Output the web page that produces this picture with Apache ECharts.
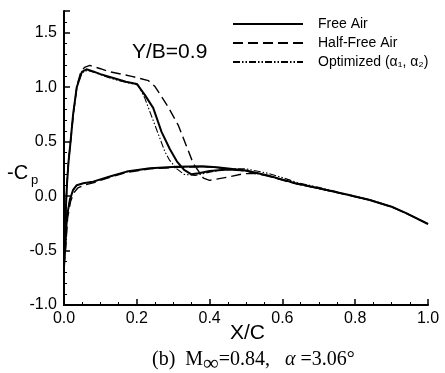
<!DOCTYPE html>
<html><head><meta charset="utf-8">
<script src="https://cdn.jsdelivr.net/npm/echarts@6/dist/echarts.min.js"></script>
<style>html,body{margin:0;padding:0;background:#fff}#c{width:445px;height:373px}</style>
</head><body><div id="c"></div>
<script>
// ---- data (x/c, -Cp) ----
var freeUpperX = [0, 0.004, 0.008, 0.012, 0.018, 0.025, 0.035, 0.049, 0.062, 0.08, 0.1, 0.14, 0.17, 0.2, 0.222, 0.245, 0.268, 0.291, 0.31, 0.33, 0.35, 0.37, 0.4, 0.45, 0.5, 0.56, 0.64, 0.7, 0.78, 0.84, 0.9, 0.94, 1.0];
var freeUpperY = [-0.65, -0.2, 0.1, 0.3, 0.5, 0.75, 1.0, 1.14, 1.165, 1.145, 1.12, 1.08, 1.05, 1.03, 0.93, 0.81, 0.59, 0.43, 0.32, 0.24, 0.2, 0.21, 0.23, 0.245, 0.235, 0.19, 0.115, 0.072, 0.012, -0.035, -0.097, -0.157, -0.256];
var freeLowerX = [0, 0.004, 0.008, 0.016, 0.025, 0.035, 0.053, 0.08, 0.126, 0.172, 0.236, 0.31, 0.38, 0.42, 0.5, 0.56, 0.64, 0.7, 0.78, 0.84, 0.9, 0.94, 1.0];
var freeLowerY = [-0.65, -0.45, -0.19, -0.035, 0.057, 0.1, 0.118, 0.133, 0.18, 0.225, 0.256, 0.27, 0.275, 0.265, 0.235, 0.19, 0.115, 0.072, 0.012, -0.035, -0.097, -0.157, -0.256];

var halfUpperX = [0, 0.004, 0.008, 0.012, 0.018, 0.026, 0.036, 0.047, 0.058, 0.071, 0.1, 0.122, 0.186, 0.232, 0.25, 0.286, 0.314, 0.337, 0.355, 0.383, 0.4, 0.45, 0.493, 0.52, 0.56, 0.64, 0.7, 0.78, 0.84, 0.9, 0.94, 1.0];
var halfUpperY = [-0.65, -0.2, 0.1, 0.3, 0.5, 0.76, 1.02, 1.15, 1.185, 1.2, 1.17, 1.145, 1.1, 1.06, 1.006, 0.82, 0.65, 0.455, 0.3, 0.165, 0.145, 0.175, 0.205, 0.21, 0.185, 0.11, 0.07, 0.01, -0.037, -0.1, -0.158, -0.256];
var halfLowerX = [0, 0.005, 0.01, 0.018, 0.027, 0.038, 0.055, 0.08, 0.126, 0.172, 0.236, 0.31, 0.38, 0.42, 0.5, 0.56, 0.64, 0.7, 0.78, 0.84, 0.9, 0.94, 1.0];
var halfLowerY = [-0.65, -0.45, -0.2, -0.05, 0.03, 0.075, 0.1, 0.122, 0.172, 0.218, 0.25, 0.265, 0.27, 0.262, 0.23, 0.185, 0.11, 0.07, 0.01, -0.037, -0.1, -0.158, -0.256];

var optUpperX = [0, 0.004, 0.008, 0.012, 0.018, 0.025, 0.035, 0.049, 0.064, 0.08, 0.1, 0.14, 0.17, 0.204, 0.222, 0.25, 0.277, 0.29, 0.31, 0.33, 0.36, 0.4, 0.45, 0.5, 0.56, 0.6, 0.64, 0.7, 0.78, 0.84, 0.9, 0.94, 1.0];
var optUpperY = [-0.65, -0.2, 0.1, 0.3, 0.5, 0.75, 1.0, 1.13, 1.155, 1.14, 1.115, 1.07, 1.045, 1.02, 0.9, 0.65, 0.41, 0.33, 0.25, 0.2, 0.19, 0.22, 0.25, 0.25, 0.21, 0.17, 0.125, 0.08, 0.015, -0.033, -0.095, -0.156, -0.256];
var optLowerX = [0, 0.004, 0.008, 0.016, 0.025, 0.035, 0.053, 0.08, 0.126, 0.172, 0.236, 0.31, 0.38, 0.42, 0.5, 0.56, 0.64, 0.7, 0.78, 0.84, 0.9, 0.94, 1.0];
var optLowerY = [-0.65, -0.45, -0.19, -0.035, 0.055, 0.098, 0.116, 0.132, 0.178, 0.222, 0.254, 0.268, 0.272, 0.262, 0.232, 0.188, 0.113, 0.07, 0.012, -0.035, -0.097, -0.157, -0.256];

var seriesNames = ['Free Air', 'Half-Free Air', 'Optimized (\u03b1\u2081, \u03b1\u2082)'];
var xTicks = [0.0, 0.2, 0.4, 0.6, 0.8, 1.0];
var yTicks = [-1.0, -0.5, 0.0, 0.5, 1.0, 1.5];

function loop(ux, uy, lx, ly) {
  var pts = [];
  for (var i = ux.length - 1; i >= 0; i--) pts.push([ux[i], uy[i]]);
  for (var j = 1; j < lx.length; j++) pts.push([lx[j], ly[j]]);
  return pts;
}

var chart = echarts.init(document.getElementById('c'), null, {renderer: 'canvas'});
var font = 'Liberation Sans, Arial, sans-serif';
var serif = 'Liberation Serif, Times New Roman, serif';

chart.setOption({
  animation: false,
  backgroundColor: '#fff',
  grid: {left: 64, right: 17, top: 11, bottom: 68, containLabel: false},
  xAxis: {
    type: 'value', min: 0, max: 1.0, interval: 0.2,
    axisLine: {show: true, onZero: false, lineStyle: {color: '#000', width: 2}},
    axisTick: {show: true, inside: true, length: 6, lineStyle: {color: '#000', width: 1.5}},
    minorTick: {show: true, splitNumber: 4, length: 3, lineStyle: {color: '#000', width: 1}},
    splitLine: {show: false},
    axisLabel: {color: '#000', fontSize: 16, fontFamily: font, margin: 6,
      formatter: function (v) { return xTicks.indexOf(Math.round(v * 10) / 10) >= 0 ? v.toFixed(1) : ''; }}
  },
  yAxis: {
    type: 'value', min: -1.0, max: 1.7, interval: 0.5,
    axisLine: {show: true, onZero: false, lineStyle: {color: '#000', width: 2}},
    axisTick: {show: true, inside: true, length: 6, lineStyle: {color: '#000', width: 1.5}},
    minorTick: {show: true, splitNumber: 5, length: 3, lineStyle: {color: '#000', width: 1}},
    splitLine: {show: false},
    axisLabel: {color: '#000', fontSize: 16, fontFamily: font, margin: 7, showMaxLabel: false,
      formatter: function (v) { return yTicks.indexOf(Math.round(v * 10) / 10) >= 0 ? v.toFixed(1) : ''; }}
  },
  legend: {
    orient: 'vertical', left: 232, top: 17, itemGap: 5, padding: 0,
    itemWidth: 70, itemHeight: 16,
    data: seriesNames,
    itemStyle: {opacity: 0},
    textStyle: {color: '#000', fontSize: 14, fontFamily: font, padding: [0, 0, 0, 10]}
  },
  title: [
    {text: 'Y/B=0.9', left: 127, top: 37, textStyle: {color: '#000', fontSize: 21, fontWeight: 'normal', fontFamily: font}},
    {text: '-C{s|p}', left: 2, top: 155, textStyle: {color: '#000', fontSize: 20, fontWeight: 'normal', fontFamily: font,
      rich: {s: {fontSize: 13, fontFamily: font, color: '#000', verticalAlign: 'bottom', padding: [14, 0, 0, 3]}}}},
    {text: 'X/C', left: 225, top: 318, textStyle: {color: '#000', fontSize: 21, fontWeight: 'normal', fontFamily: font}},
    {text: '(b)  M{s|\u221e}=0.84,   {i|\u03b1} =3.06\u00b0', left: 147, top: 340,
      textStyle: {color: '#000', fontSize: 20, fontWeight: 'normal', fontFamily: serif,
        rich: {s: {fontSize: 22, fontFamily: serif, color: '#000', padding: [8, 0, 0, 0]},
               i: {fontSize: 20, fontStyle: 'italic', fontFamily: serif, color: '#000'}}}}
  ],
  series: [
    {name: seriesNames[0], type: 'line', symbol: 'none', smooth: false,
      lineStyle: {color: '#000', width: 2, type: 'solid'}, itemStyle: {color: '#000'},
      data: loop(freeUpperX, freeUpperY, freeLowerX, freeLowerY)},
    {name: seriesNames[1], type: 'line', symbol: 'none', smooth: false,
      lineStyle: {color: '#000', width: 1.4, type: [10, 5]}, itemStyle: {color: '#000'},
      data: loop(halfUpperX, halfUpperY, halfLowerX, halfLowerY)},
    {name: seriesNames[2], type: 'line', symbol: 'none', smooth: false,
      lineStyle: {color: '#000', width: 1.1, type: [7, 2, 1.5, 2, 1.5, 2]}, itemStyle: {color: '#000'},
      data: loop(optUpperX, optUpperY, optLowerX, optLowerY)}
  ]
});
</script></body></html>
